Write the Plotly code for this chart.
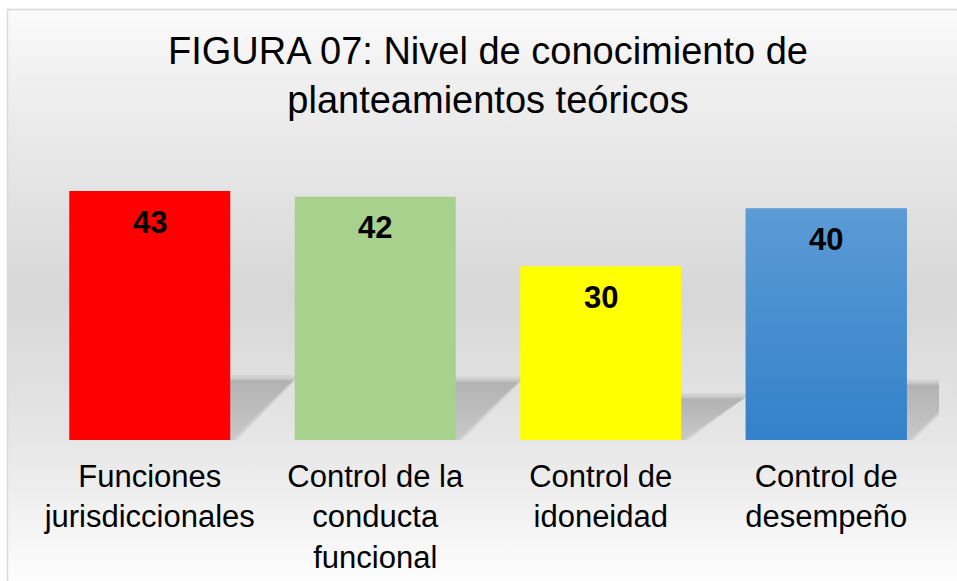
import base64
import plotly.graph_objects as go

# ---- data ----
categories = ["Funciones<br>jurisdiccionales", "Control de la<br>conducta<br>funcional",
              "Control de<br>idoneidad", "Control de<br>desempeño"]
values = [43, 42, 30, 40]
bar_colors = ["#ff0000", "#a9d18e", "#ffff00", "#4a90d3"]
title_text = "FIGURA 07: Nivel de conocimiento de<br>planteamientos teóricos"

# ---- geometry / style ----
W, H = 957, 581
ML, MR, MT, MB = 37, 18, 160, 141
BAR_W = 0.714
YMAX = 48.36
SHADOW_K = 0.24      # shadow height as fraction of bar height
SHADOW_S = 0.28      # shadow horizontal skew (category units)
FONT = "Liberation Sans, Arial, sans-serif"

idx = list(range(len(values)))

# background (gradient + frame) as svg image
svg = f'''<svg xmlns="http://www.w3.org/2000/svg" width="{W}" height="{H}" viewBox="0 0 {W} {H}">
<defs><linearGradient id="g" gradientUnits="userSpaceOnUse" x1="0" y1="10" x2="0" y2="{H}">
<stop offset="0" stop-color="#fbfbfb"/>
<stop offset="0.12" stop-color="#f0f0f0"/>
<stop offset="0.5" stop-color="#d7d7d7"/>
<stop offset="0.75" stop-color="#e6e6e6"/>
<stop offset="1" stop-color="#fdfdfd"/>
</linearGradient></defs>
<rect x="0" y="0" width="{W}" height="{H}" fill="#ffffff"/>
<rect x="7.5" y="9.5" width="1200" height="1200" fill="url(#g)" stroke="#d9d9d9" stroke-width="1.5"/>
</svg>'''
svg_uri = "data:image/svg+xml;base64," + base64.b64encode(svg.encode()).decode()

pw = W - ML - MR
ph = H - MT - MB

fig = go.Figure()

# perspective shadows (main subplot, drawn beneath bars); soft edge via layered fills
for i, v in zip(idx, values):
    for grow, alpha in [(0.03, 0.25), (0.015, 0.35), (0.0, 1.0)]:
        gy = grow * 30
        xs = [i - BAR_W / 2, i + BAR_W / 2 + grow, i + BAR_W / 2 + SHADOW_S + grow,
              i - BAR_W / 2 + SHADOW_S, i - BAR_W / 2]
        ys = [0, 0, SHADOW_K * v + gy, SHADOW_K * v + gy, 0]
        if alpha < 1:
            fill = dict(fillcolor=f"rgba(175,175,175,{alpha})")
        else:
            fill = dict(fillgradient=dict(
                type="vertical",
                colorscale=[[0, "rgba(200,200,200,0.95)"], [1, "rgba(178,178,178,1)"]]))
        fig.add_trace(go.Scatter(
            x=xs, y=ys, mode="lines", fill="toself", line=dict(width=0, color="rgba(0,0,0,0)"),
            hoverinfo="skip", showlegend=False, xaxis="x", yaxis="y", **fill))

# bars on overlay subplot
fig.add_trace(go.Bar(
    x=idx, y=values, width=BAR_W, marker=dict(color=bar_colors, line=dict(width=0)),
    showlegend=False, xaxis="x2", yaxis="y2", hoverinfo="y"))

# gradient on the blue bar
bi = 3
bv = values[bi]
fig.add_trace(go.Scatter(
    x=[bi - BAR_W / 2, bi + BAR_W / 2, bi + BAR_W / 2, bi - BAR_W / 2, bi - BAR_W / 2],
    y=[0, 0, bv, bv, 0], mode="lines", fill="toself", line=dict(width=0, color="rgba(0,0,0,0)"),
    fillgradient=dict(type="vertical", colorscale=[[0, "#3381c9"], [1, "#5b9bd6"]]),
    hoverinfo="skip", showlegend=False, xaxis="x2", yaxis="y2"))

annotations = []
for i, v in zip(idx, values):
    annotations.append(dict(
        x=i, y=v, xref="x2", yref="y2", text=f"<b>{v}</b>", showarrow=False,
        yanchor="middle", yshift=-31, font=dict(family=FONT, size=31, color="#000000")))

fig.update_layout(
    width=W, height=H,
    margin=dict(l=ML, r=MR, t=MT, b=MB, pad=0, autoexpand=False),
    paper_bgcolor="white",
    plot_bgcolor="rgba(0,0,0,0)",
    title=dict(text=title_text, x=0.5, xref="paper", xanchor="center",
               y=1 - 64 / H, yref="container", yanchor="top", automargin=False,
               font=dict(family=FONT, size=38, color="#000000")),
    xaxis=dict(range=[-0.5, 3.5], tickvals=idx, ticktext=categories, showgrid=False,
               zeroline=False, showline=False, ticks="", fixedrange=True,
               ticklabelstandoff=15, automargin=False,
               tickfont=dict(family=FONT, size=31, color="#000000")),
    yaxis=dict(range=[0, YMAX], visible=False, showgrid=False, zeroline=False,
               automargin=False, fixedrange=True),
    xaxis2=dict(range=[-0.5, 3.5], overlaying="x", visible=False, showgrid=False,
                zeroline=False, automargin=False, fixedrange=True),
    yaxis2=dict(range=[0, YMAX], overlaying="y", visible=False, showgrid=False,
                zeroline=False, automargin=False, fixedrange=True),
    annotations=annotations,
    images=[dict(source=svg_uri, xref="paper", yref="paper",
                 x=-ML / pw, y=1 + MT / ph, sizex=W / pw, sizey=H / ph,
                 xanchor="left", yanchor="top", sizing="stretch", layer="below")],
    showlegend=False,
)

fig.write_html("out.html", config={"displayModeBar": False},
               post_script="document.body.style.margin='0';document.body.style.overflow='hidden';")
